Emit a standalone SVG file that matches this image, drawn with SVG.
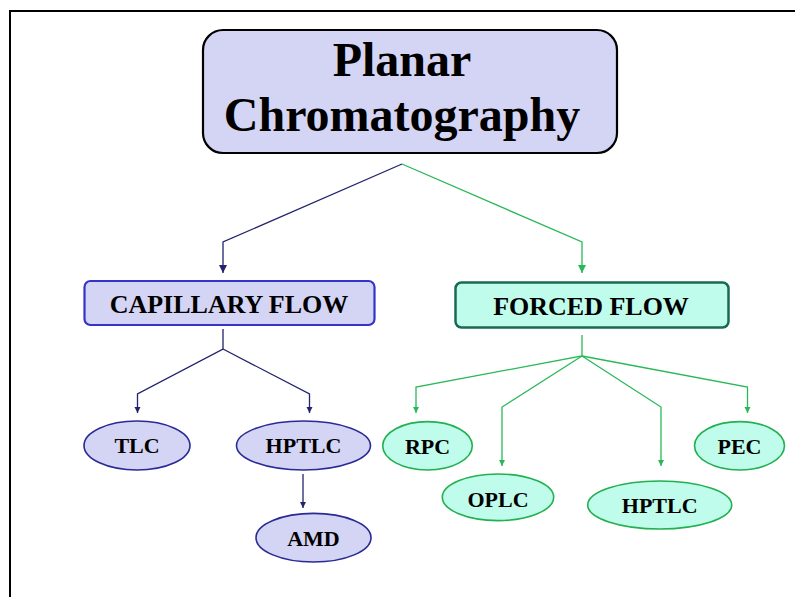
<svg xmlns="http://www.w3.org/2000/svg" width="795" height="597" viewBox="0 0 795 597">
  <style>
    text { font-family: "Liberation Serif", "Times New Roman", serif; font-weight: bold; fill: #000; text-anchor: middle; }
    .title { font-size: 48px; }
    .box { font-size: 26px; }
    .ell { font-size: 22px; }
    .navy { stroke: #23236e; stroke-width: 1.3; fill: none; }
    .green { stroke: #28b858; stroke-width: 1.3; fill: none; }
    .eb { fill: #d4d4f4; stroke: #2a2a96; stroke-width: 1.6; }
    .eg { fill: #c0fcec; stroke: #22b050; stroke-width: 1.6; }
  </style>
  <defs>
    <marker id="anB" markerUnits="userSpaceOnUse" markerWidth="10" markerHeight="10" refX="8" refY="4" orient="auto">
      <path d="M0,0 L8,4 L0,8 Z" fill="#23236e"/>
    </marker>
    <marker id="anG" markerUnits="userSpaceOnUse" markerWidth="10" markerHeight="10" refX="8" refY="4" orient="auto">
      <path d="M0,0 L8,4 L0,8 Z" fill="#28b858"/>
    </marker>
    <marker id="asB" markerUnits="userSpaceOnUse" markerWidth="8" markerHeight="8" refX="6" refY="3" orient="auto">
      <path d="M0,0 L6,3 L0,6 Z" fill="#23236e"/>
    </marker>
    <marker id="asG" markerUnits="userSpaceOnUse" markerWidth="8" markerHeight="8" refX="6" refY="3" orient="auto">
      <path d="M0,0 L6,3 L0,6 Z" fill="#28b858"/>
    </marker>
  </defs>

  <rect width="795" height="597" fill="#fff"/>
  <path d="M10,597 L10,11 L795,11" fill="none" stroke="#000" stroke-width="2"/>

  <g id="connectors">
    <polyline class="navy" points="402,164 223,242 223,273" marker-end="url(#anB)"/>
    <polyline class="green" points="402,164 582,242 582,273" marker-end="url(#anG)"/>
    <polyline class="navy" points="223,329 223,349 137.5,394 137.5,413" marker-end="url(#asB)"/>
    <polyline class="navy" points="223,349 309.5,394 309.5,413" marker-end="url(#asB)"/>
    <polyline class="navy" points="303,474 303,508" marker-end="url(#asB)"/>
    <polyline class="green" points="582,335 582,356 416,387 416,413" marker-end="url(#asG)"/>
    <polyline class="green" points="582,356 502,407 502,466" marker-end="url(#asG)"/>
    <polyline class="green" points="582,356 661,407 661,466" marker-end="url(#asG)"/>
    <polyline class="green" points="582,356 747.5,387 747.5,413" marker-end="url(#asG)"/>
  </g>

  <g id="planar">
    <rect x="203" y="30" width="414" height="123" rx="20" fill="#d4d4f4" stroke="#000" stroke-width="2.2"/>
    <text class="title" x="402" y="76">Planar</text>
    <text class="title" x="402" y="131">Chromatography</text>
  </g>

  <g id="capillary">
    <rect x="84.5" y="281" width="290" height="44" rx="6" fill="#d4d4f4" stroke="#3434c8" stroke-width="2.2"/>
    <text class="box" x="229" y="313">CAPILLARY FLOW</text>
  </g>

  <g id="forced">
    <rect x="455.5" y="282.5" width="273" height="45" rx="6" fill="#c0fcec" stroke="#1a6a52" stroke-width="2.5"/>
    <text class="box" x="591" y="314.5">FORCED FLOW</text>
  </g>

  <g id="tlc">
    <ellipse class="eb" cx="137" cy="445.5" rx="53" ry="24.5"/>
    <text class="ell" x="137" y="453">TLC</text>
  </g>
  <g id="hptlc-cap">
    <ellipse class="eb" cx="303.5" cy="445.5" rx="67" ry="24.5"/>
    <text class="ell" x="303.5" y="453">HPTLC</text>
  </g>
  <g id="amd">
    <ellipse class="eb" cx="313.5" cy="537.7" rx="57.5" ry="24.3"/>
    <text class="ell" x="313.5" y="545.5">AMD</text>
  </g>

  <g id="rpc">
    <ellipse class="eg" cx="427.5" cy="445.8" rx="44.8" ry="24.2"/>
    <text class="ell" x="427.5" y="454">RPC</text>
  </g>
  <g id="oplc">
    <ellipse class="eg" cx="498" cy="497.3" rx="55.7" ry="23.3"/>
    <text class="ell" x="498" y="507">OPLC</text>
  </g>
  <g id="hptlc-forced">
    <ellipse class="eg" cx="659.7" cy="505" rx="72" ry="24"/>
    <text class="ell" x="659.7" y="513">HPTLC</text>
  </g>
  <g id="pec">
    <ellipse class="eg" cx="739.5" cy="445.8" rx="45" ry="24.2"/>
    <text class="ell" x="739.5" y="454">PEC</text>
  </g>
</svg>
